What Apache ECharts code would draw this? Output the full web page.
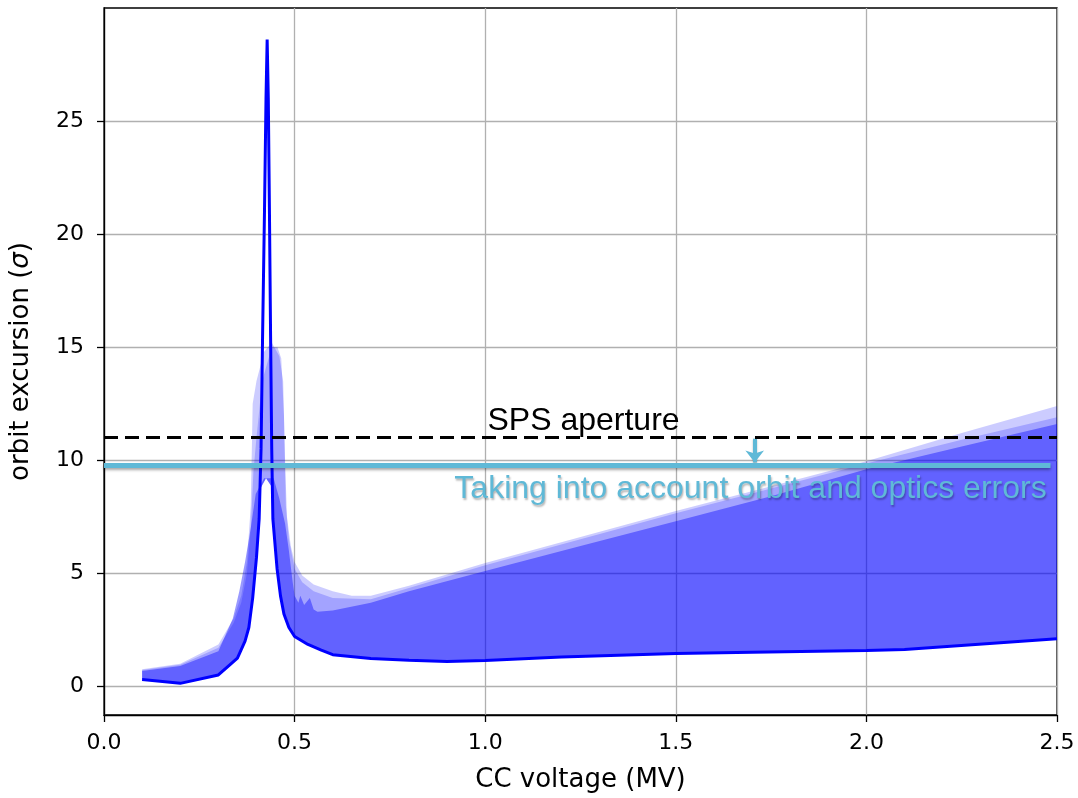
<!DOCTYPE html>
<html><head><meta charset="utf-8">
<script src="https://cdn.jsdelivr.net/npm/echarts@6/dist/echarts.min.js"></script>
<style>html,body{margin:0;padding:0;background:#fff}#c{width:1078px;height:798px}</style>
</head><body><div id="c"></div>
<script>
// Nominal orbit excursion curve (sigma) vs CC voltage (MV)
const lineX = [0.10,0.20,0.30,0.33,0.35,0.37,0.38,0.39,0.40,0.407,0.412,0.416,0.421,0.425,0.428,0.431,0.434,0.437,0.440,0.443,0.454,0.463,0.472,0.485,0.50,0.535,0.57,0.60,0.70,0.80,0.90,1.00,1.20,1.50,1.70,2.00,2.10,2.50];
const lineY = [0.30,0.13,0.50,0.95,1.25,2.0,2.6,3.9,5.7,7.4,10.5,15.5,21,26,28.6,26,21,15.5,10.5,7.4,5.2,4.0,3.2,2.6,2.2,1.85,1.6,1.4,1.23,1.15,1.1,1.14,1.3,1.45,1.5,1.58,1.63,2.1];
// Lower edge of the error bands
const bandLowX = [0.10,0.20,0.30,0.33,0.35,0.37,0.38,0.39,0.40,0.407,0.412,0.425,0.441,0.443,0.454,0.463,0.472,0.485,0.50,0.535,0.57,0.60,0.70,0.80,0.90,1.00,1.20,1.50,1.70,2.00,2.10,2.50];
const bandLowY = [0.30,0.13,0.50,0.95,1.25,2.0,2.6,3.9,5.7,7.4,8.8,9.2,8.8,7.4,5.2,4.0,3.2,2.6,2.2,1.85,1.6,1.4,1.23,1.15,1.1,1.14,1.3,1.45,1.5,1.58,1.63,2.1];
// Upper edges of the error bands (outer, middle, core)
const outerUpX = [0.10,0.20,0.30,0.34,0.36,0.375,0.385,0.39,0.40,0.42,0.44,0.46,0.47,0.475,0.48,0.49,0.50,0.52,0.55,0.60,0.65,0.70,0.80,1.00,1.25,1.50,1.75,2.00,2.25,2.50];
const outerUpY = [0.75,1.0,1.85,3.0,4.0,5.5,8.0,12.5,13.5,14.8,15.2,14.6,13.5,10.0,7.5,6.2,5.5,4.9,4.5,4.2,4.0,4.0,4.45,5.45,6.6,7.75,8.85,9.95,11.2,12.4];
const midUpX = [0.10,0.20,0.30,0.34,0.36,0.375,0.385,0.392,0.40,0.415,0.44,0.455,0.465,0.472,0.477,0.485,0.50,0.52,0.55,0.60,0.70,0.80,1.00,1.25,1.50,1.75,2.00,2.25,2.50];
const midUpY = [0.72,0.95,1.7,2.8,3.7,5.0,7.0,9.5,11.0,13.5,15.0,15.0,14.5,12.0,8.0,6.5,5.2,4.6,4.2,3.9,3.85,4.35,5.35,6.5,7.65,8.75,9.85,10.9,11.9];
const coreUpX = [0.10,0.20,0.30,0.338,0.355,0.37,0.385,0.398,0.42,0.445,0.46,0.475,0.485,0.495,0.50,0.51,0.515,0.525,0.54,0.55,0.56,0.60,0.70,0.80,1.00,1.25,1.50,1.75,2.00,2.25,2.50];
const coreUpY = [0.68,0.9,1.55,3.0,4.2,5.5,7.0,8.5,9.2,9.2,8.3,7.2,6.0,4.6,4.0,3.7,4.0,3.6,3.9,3.4,3.3,3.35,3.7,4.2,5.1,6.2,7.3,8.4,9.6,10.6,11.6];
// Reference levels and annotations
const apertureX = [0, 2.5];
const apertureY = [11, 11];
const errorX = [0, 2.483];
const errorY = [9.76, 9.76];
const arrowX = [1.707, 1.707];
const arrowY = [10.95, 9.9];
const yTicks = [0, 5, 10, 15, 20, 25];
const labelSPS = {text: 'SPS aperture', x: 1.258, y: 11.74};
const labelErr = {text: 'Taking into account orbit and optics errors', x: 1.696, y: 8.7};

const CYAN = '#5fb9d7';
const chart = echarts.init(document.getElementById('c'), null, {renderer: 'canvas'});

function polygonSeries(upX, upY, color, z) {
  const xs = upX.concat(bandLowX.slice().reverse());
  const ys = upY.concat(bandLowY.slice().reverse());
  return {
    type: 'custom', z: z, silent: true, clip: true,
    data: [[xs[0], ys[0]]],
    encode: {x: 0, y: 1},
    renderItem: function (params, api) {
      const pts = xs.map(function (x, i) { return api.coord([x, ys[i]]); });
      return {type: 'polygon', shape: {points: pts}, style: {fill: color}};
    }
  };
}
function pairs(xs, ys) { return xs.map(function (x, i) { return [x, ys[i]]; }); }

const FONT = 'DejaVu Sans';
chart.setOption({
  animation: false,
  backgroundColor: '#ffffff',
  grid: {left: 103, right: 21, top: 8, bottom: 82, show: true, borderColor: '#000', borderWidth: 1.3, backgroundColor: 'transparent'},
  xAxis: {
    type: 'value', min: 0, max: 2.5, interval: 0.5,
    name: 'CC voltage (MV)', nameLocation: 'middle', nameGap: 52,
    nameTextStyle: {fontFamily: FONT, fontSize: 26, color: '#000'},
    axisLine: {show: true, onZero: false, lineStyle: {color: '#000', width: 1.3}},
    axisTick: {show: true, length: 7, lineStyle: {color: '#000', width: 1.3}},
    axisLabel: {fontFamily: FONT, fontSize: 22, color: '#000', margin: 17, formatter: function (v) { return v.toFixed(1); }},
    splitLine: {show: true, lineStyle: {color: '#b0b0b0', width: 1.3}}
  },
  yAxis: {
    type: 'value', min: -1.27, max: 30.0,
    name: 'orbit excursion ({i|σ})', nameLocation: 'middle', nameGap: 70, nameRotate: 90,
    nameTextStyle: {fontFamily: FONT, fontSize: 26, color: '#000',
      rich: {i: {fontFamily: FONT, fontSize: 26, fontStyle: 'italic', color: '#000'}}},
    axisLine: {show: true, onZero: false, lineStyle: {color: '#000', width: 1.3}},
    axisTick: {show: true, length: 7, customValues: yTicks, lineStyle: {color: '#000', width: 1.3}},
    axisLabel: {fontFamily: FONT, fontSize: 22, color: '#000', margin: 20, customValues: yTicks},
    splitLine: {show: true, lineStyle: {color: '#b0b0b0', width: 1.3}}
  },
  series: [
    polygonSeries(outerUpX, outerUpY, 'rgba(0,0,255,0.2)', 1),
    polygonSeries(midUpX, midUpY, 'rgba(0,0,255,0.2)', 2),
    polygonSeries(coreUpX, coreUpY, 'rgba(0,0,255,0.4)', 3),
    {
      type: 'line', z: 5, data: pairs(lineX, lineY), showSymbol: false, symbol: 'none',
      lineStyle: {color: '#0000ff', width: 3}, silent: true
    },
    {
      type: 'line', z: 6, data: pairs(apertureX, apertureY), symbol: 'none',
      lineStyle: {color: '#000', width: 3, type: [14, 7]}, silent: true
    },
    {
      type: 'line', z: 7, data: pairs(errorX, errorY), symbol: 'none',
      lineStyle: {color: CYAN, width: 5, shadowColor: 'rgba(0,0,0,0.35)', shadowBlur: 3, shadowOffsetY: 2},
      silent: true,
      markLine: {
        silent: true, symbol: ['none', 'arrow'], symbolSize: [14, 12],
        label: {show: false},
        lineStyle: {color: CYAN, width: 4, type: 'solid', shadowColor: 'rgba(0,0,0,0.3)', shadowBlur: 2, shadowOffsetY: 1},
        data: [[{coord: [arrowX[0], arrowY[0]]}, {coord: [arrowX[1], arrowY[1]]}]]
      }
    },
    {
      type: 'scatter', z: 8, symbolSize: 0, silent: true, itemStyle: {opacity: 1},
      data: [[labelSPS.x, labelSPS.y]],
      label: {show: true, position: 'inside', formatter: labelSPS.text, fontFamily: 'Liberation Sans', fontSize: 32, color: '#000'}
    },
    {
      type: 'scatter', z: 8, symbolSize: 0, silent: true, itemStyle: {opacity: 1},
      data: [[labelErr.x, labelErr.y]],
      label: {show: true, position: 'inside', formatter: labelErr.text, fontFamily: 'Liberation Sans', fontSize: 32, color: CYAN,
        textShadowColor: 'rgba(0,0,0,0.3)', textShadowBlur: 2, textShadowOffsetX: 1, textShadowOffsetY: 2}
    }
  ]
});
</script></body></html>
